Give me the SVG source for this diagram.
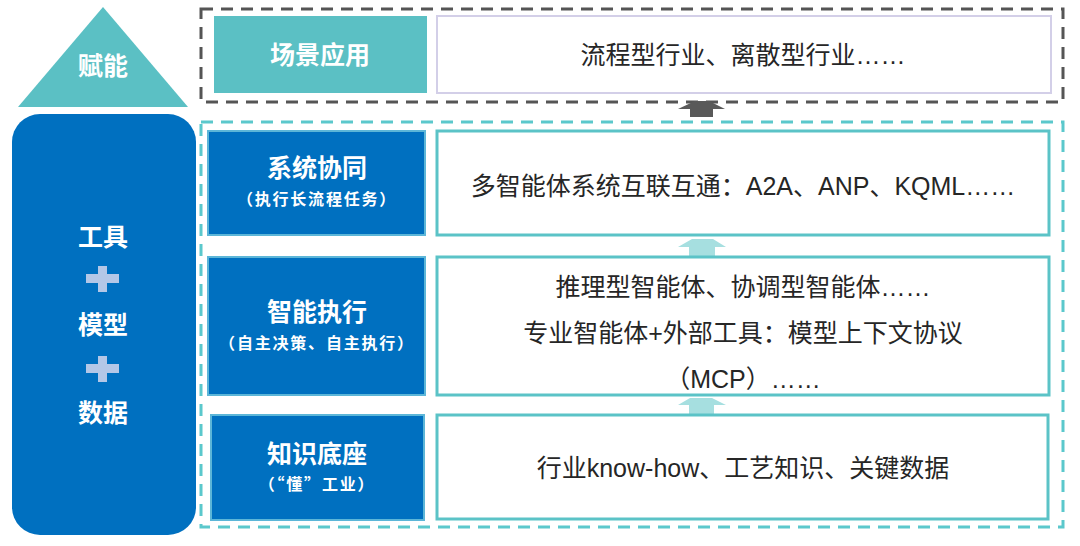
<svg xmlns="http://www.w3.org/2000/svg" width="1080" height="546" viewBox="0 0 1080 546">
<style>
.lbl{font-family:"Noto Sans CJK SC","Noto Sans",sans-serif;font-weight:700;fill:#ffffff;text-anchor:middle}
.big{font-size:25px}
.sub{font-size:16px;letter-spacing:1.8px}
.body{font-family:"Liberation Sans","Noto Sans CJK SC",sans-serif;font-size:25px;fill:#262626;text-anchor:middle}
.blue{fill:#0070c0;stroke:#5cb6d8;stroke-width:2}
.white{fill:#ffffff;stroke:#5bc3c7;stroke-width:3}
.dash{fill:none;stroke-width:3;stroke-dasharray:12 8}
.plus{fill:#b4c7e7}
</style>
<rect width="1080" height="546" fill="#ffffff"/>

<g id="frames">
<rect x="201" y="9" width="862" height="93" class="dash" stroke="#555555"/>
<rect x="201" y="122" width="862" height="405" class="dash" stroke="#5bc8cc"/>
</g>

<g id="connectors">
<polygon points="695,101 709,101 725,109 713,109 713,117 690,117 690,109 678,109" fill="#595959"/>
<polygon points="692,239 713,239 726,247 715,247 715,256 689,256 689,247 678,247" fill="#a6dfe0"/>
<polygon points="690,398 712,398 726,405 714,405 714,414 689,414 689,405 678,405" fill="#a6dfe0"/>
</g>

<g id="empower">
<polygon points="103,7 188,107 18,107" fill="#5bc0c4"/>
<text x="103" y="75" class="lbl big">赋能</text>
</g>

<g id="foundation">
<rect x="12" y="114" width="184" height="421" rx="28" fill="#0070c0"/>
<text x="103" y="246" class="lbl big">工具</text>
<rect x="86" y="274" width="33" height="9" class="plus"/>
<rect x="98" y="266" width="9" height="26" class="plus"/>
<text x="103" y="334" class="lbl big">模型</text>
<rect x="86" y="364" width="33" height="9" class="plus"/>
<rect x="98" y="356" width="9" height="26" class="plus"/>
<text x="103" y="422" class="lbl big">数据</text>
</g>

<g id="scene">
<rect x="214" y="16" width="213" height="77" fill="#5bc0c4"/>
<text x="320" y="64" class="lbl big">场景应用</text>
</g>
<g id="scene-detail">
<rect x="437" y="16" width="614" height="77" fill="#ffffff" stroke="#d3cfe8" stroke-width="2"/>
<text x="743" y="64" class="body">流程型行业、离散型行业……</text>
</g>

<g id="collab">
<rect x="208" y="131" width="217" height="104" class="blue"/>
<text x="317" y="177" class="lbl big">系统协同</text>
<text x="317" y="205" class="lbl sub">（执行长流程任务）</text>
</g>
<g id="collab-detail">
<rect x="437" y="131" width="612" height="104" class="white"/>
<text x="743" y="195" class="body">多智能体系统互联互通：A2A、ANP、KQML……</text>
</g>

<g id="exec">
<rect x="208" y="257" width="217" height="138" class="blue"/>
<text x="317" y="321" class="lbl big">智能执行</text>
<text x="317" y="349" class="lbl sub">（自主决策、自主执行）</text>
</g>
<g id="exec-detail">
<rect x="437" y="257" width="612" height="138" class="white"/>
<text x="743" y="296" class="body">推理型智能体、协调型智能体……</text>
<text x="743" y="342" class="body">专业智能体+外部工具：模型上下文协议</text>
<text x="743" y="388" class="body">（MCP）……</text>
</g>

<g id="knowledge">
<rect x="211" y="415" width="213" height="105" class="blue"/>
<text x="317" y="463" class="lbl big">知识底座</text>
<text x="317" y="490" class="lbl sub">（“懂”工业）</text>
</g>
<g id="knowledge-detail">
<rect x="437" y="415" width="611" height="104" class="white"/>
<text x="743" y="477" class="body">行业know-how、工艺知识、关键数据</text>
</g>
</svg>
